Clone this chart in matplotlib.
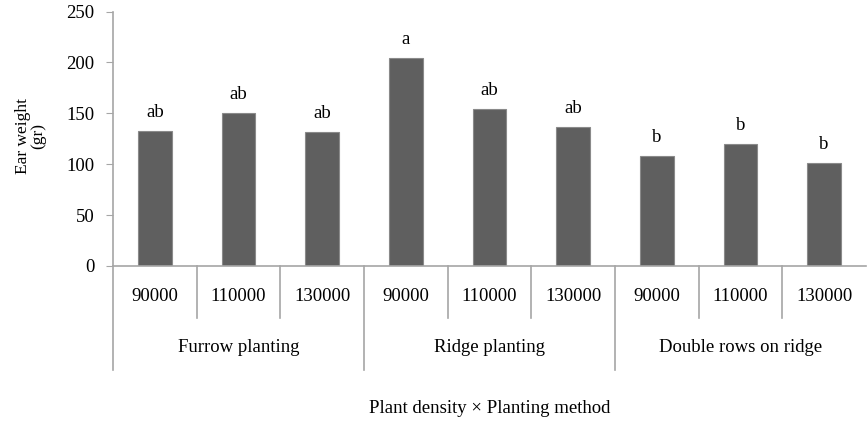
import matplotlib.pyplot as plt

plt.rcParams['font.family'] = ['Liberation Serif', 'DejaVu Serif']

# data
densities = ['90000', '110000', '130000'] * 3
methods = ['Furrow planting', 'Ridge planting', 'Double rows on ridge']
ear_weight = [133, 150, 132, 204, 154, 137, 108, 120, 101]
letters = ['ab', 'ab', 'ab', 'a', 'ab', 'ab', 'b', 'b', 'b']

grey = '#a6a6a6'

fig = plt.figure(figsize=(8.67, 4.21), dpi=100)
ax = fig.add_axes([113 / 867, 155 / 421, 753 / 867, 254.5 / 421])

x = list(range(len(ear_weight)))
ax.bar(x, ear_weight, width=0.4, color='#5f5f5f', edgecolor='#8a8a8a', linewidth=0.8)

for xi, v, lab in zip(x, ear_weight, letters):
    ax.annotate(lab, (xi, v), xytext=(0, 10), textcoords='offset points',
                ha='center', va='baseline', fontsize=13.5)

ax.set_xlim(-0.5, len(x) - 0.5)
ax.set_ylim(0, 250)
ax.set_yticks(range(0, 251, 50))
ax.tick_params(axis='y', direction='out', length=5, width=0.8, color=grey,
               labelsize=13.5, pad=8.5)
ax.set_xticks([])

for side in ['top', 'right']:
    ax.spines[side].set_visible(False)
for side in ['left', 'bottom']:
    ax.spines[side].set_color(grey)
    ax.spines[side].set_linewidth(1.2)

ax.set_ylabel('Ear weight\n(gr)', fontsize=12.5, linespacing=1.0)
ax.yaxis.set_label_coords(-0.088, 0.51)

# two-level category axis
trans = ax.get_xaxis_transform()
for i in range(len(x)):
    b = i - 0.5
    low = -0.409 if i % 3 == 0 else -0.204
    ax.plot([b, b], [0, low], color=grey, lw=1.2, transform=trans, clip_on=False)
    ax.text(i, -0.118, densities[i], transform=trans, ha='center', va='center',
            fontsize=13.5)

for g, name in enumerate(methods):
    ax.text(g * 3 + 1, -0.322, name, transform=trans, ha='center', va='center',
            fontsize=13.5)

ax.text(0.5, -0.558, 'Plant density \u00d7 Planting method', transform=ax.transAxes,
        ha='center', va='center', fontsize=13.5)

fig.savefig('out.png', dpi=100)
